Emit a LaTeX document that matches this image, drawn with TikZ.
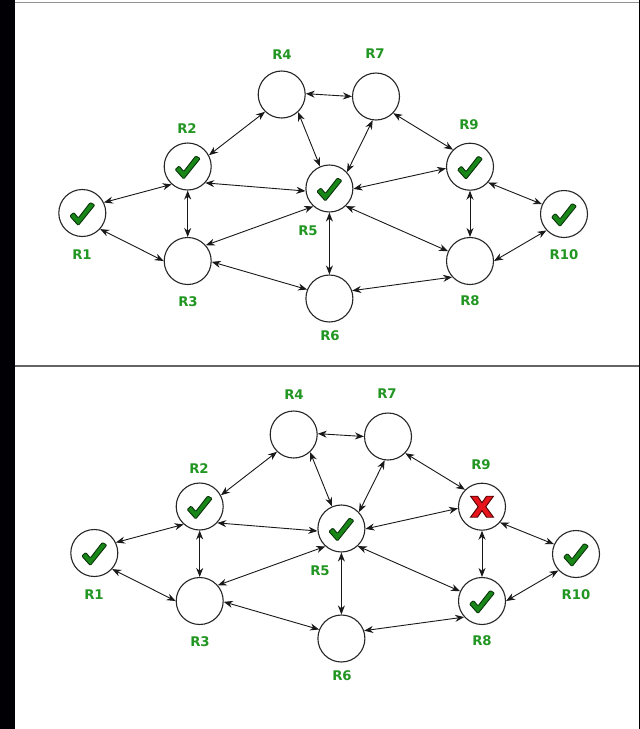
\documentclass[tikz,border=0pt]{standalone}
\usepackage{fontspec}
\newfontfamily\labfont{DejaVu Sans}
\usetikzlibrary{arrows.meta}
\definecolor{labgreen}{RGB}{34,150,34}
\definecolor{tickgreen}{RGB}{24,135,24}
\definecolor{tickdark}{RGB}{10,50,10}
\definecolor{crossred}{RGB}{232,20,28}
\definecolor{crossdark}{RGB}{80,0,0}
\definecolor{rule}{RGB}{100,100,100}
\tikzset{
  router/.style={circle, draw=black!85, line width=1.1pt, fill=white,
    minimum size=47pt, inner sep=0pt},
  lab/.style={text=labgreen, font=\labfont\bfseries\fontsize{13.3}{15}\selectfont,
    inner sep=0pt},
  link/.style={{Stealth[length=9pt,width=7pt]}-{Stealth[length=9pt,width=7pt]},
    line width=0.9pt, black!90},
  tick/.pic={\filldraw[fill=tickgreen, draw=tickdark, line width=0.9pt,
      rounded corners=1pt]
      (-12.5,3) -- (-8.5,-0.5) -- (-4,5) -- (8,-10.5) -- (12.5,-8) -- (-4,12.5) -- cycle;},
  cross/.pic={\filldraw[fill=crossred, draw=crossdark, line width=0.9pt]
      (-11.5,-10.5) -- (-4.5,-10.5) -- (0,-4) -- (4.5,-10.5) -- (11.5,-10.5) -- (3.8,0)
      -- (11.5,10.5) -- (4.5,10.5) -- (0,4) -- (-4.5,10.5) -- (-11.5,10.5) -- (-3.8,0) -- cycle;}
}
% one copy of the ten-router network
\newcommand\netpanel{%
  \node[router] (R1) at (82.3,213) {};
  \node[router] (R2) at (187.7,166.5) {};
  \node[router] (R3) at (187.7,261) {};
  \node[router] (R4) at (281.7,94.5) {};
  \node[router] (R5) at (329.4,188.5) {};
  \node[router] (R6) at (329.4,298.5) {};
  \node[router] (R7) at (376,96.5) {};
  \node[router] (R8) at (470,261) {};
  \node[router] (R9) at (470,166.7) {};
  \node[router] (R10) at (564,214) {};
  \node[lab] (L1) at (82,255) {R1};
  \node[lab] (L2) at (187,129) {R2};
  \node[lab] (L3) at (188,302) {R3};
  \node[lab] (L4) at (282,55) {R4};
  \node[lab] (L5) at (308,231) {R5};
  \node[lab] (L6) at (330,336) {R6};
  \node[lab] (L7) at (375,54) {R7};
  \node[lab] (L8) at (470,301) {R8};
  \node[lab] (L9) at (469,125) {R9};
  \node[lab] (L10) at (564,255) {R10};
  \draw[link] (R1.26) -- (R2.228);
  \draw[link] (R1.-42) -- (R3.180);
  \draw[link] (R2.28) -- (R4.226);
  \draw[link] (R2.-90) -- (R3.90);
  \draw[link] (R2.-43) -- (R5.186);
  \draw[link] (R4.2) -- (R7.180);
  \draw[link] (R4.-47) -- (R5.113);
  \draw[link] (R7.262) -- (R5.43);
  \draw[link] (R7.-44) -- (R9.135);
  \draw[link] (R3.41) -- (R5.228);
  \draw[link] (R3.-2) -- (R6.158);
  \draw[link] (R5.-90) -- (R6.90);
  \draw[link] (R5.-1) -- (R9.184);
  \draw[link] (R5.-47) -- (R8.156);
  \draw[link] (R9.-90) -- (R8.90);
  \draw[link] (R9.-41) -- (R10.156);
  \draw[link] (R10.223) -- (R8.0);
  \draw[link] (R6.19) -- (R8.222);
}
\begin{document}
\begin{tikzpicture}[x=1pt,y=-1pt]
  % frame and panels
  \fill[black!98!blue] (0,0) rectangle (640,729);
  \fill[white] (15,0) rectangle (639,729);
  \useasboundingbox (0,0) rectangle (640,729);
  \draw[rule!70, line width=1.5pt] (15,2.6) -- (639,2.6);
  \draw[rule, line width=2pt] (15,365.6) -- (639,365.6);

  % upper network
  \begin{scope}[name prefix=a-]
    \netpanel
    \foreach \r in {R1,R2,R5,R9,R10} \pic at (\r) {tick};
  \end{scope}

  % lower network: R9 failed
  \begin{scope}[shift={(12,340)}, name prefix=b-]
    \netpanel
    \foreach \r in {R1,R2,R5,R8,R10} \pic at (\r) {tick};
    \pic at (R9) {cross};
  \end{scope}
\end{tikzpicture}
\end{document}
